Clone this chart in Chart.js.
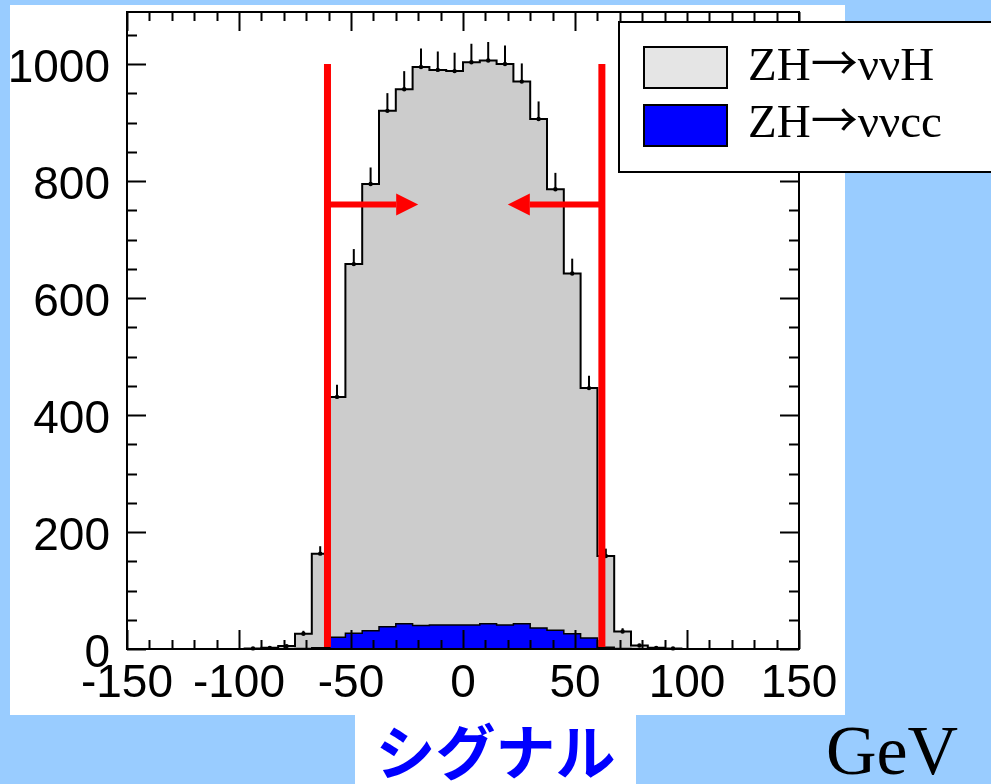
<!DOCTYPE html>
<html><head><meta charset="utf-8">
<script src="https://cdn.jsdelivr.net/npm/chart.js@4.4.0/dist/chart.umd.min.js"></script>
<style>
html,body{margin:0;padding:0;}
body{width:991px;height:784px;background:#99ccff;position:relative;overflow:hidden;}
#panel{position:absolute;left:10px;top:5px;width:835px;height:710px;background:#fff;}
#sigbox{position:absolute;left:355px;top:714px;width:281px;height:70px;background:#fff;}
#sig{position:absolute;left:355px;top:714px;width:281px;height:70px;line-height:70px;text-align:center;
  font-family:"Noto Sans CJK JP";font-weight:700;font-size:60px;color:#0000ff;}
#gev{position:absolute;left:826px;top:716px;line-height:70px;font-family:"Liberation Serif";font-size:70px;color:#000;white-space:nowrap;}
#c{position:absolute;left:0;top:0;}
.lg{position:absolute;left:748px;font-family:"Liberation Serif";font-size:47px;line-height:47px;color:#000;white-space:nowrap;}
.ar{font-family:"Noto Sans CJK JP";font-weight:400;line-height:0;}
</style></head>
<body>
<div id="panel"></div>
<div id="sigbox"></div>
<div id="sig">シグナル</div>
<div id="gev">GeV</div>
<canvas id="c" width="991" height="784"></canvas>
<div class="lg" id="lg0" style="top:41px"></div>
<div class="lg" id="lg1" style="top:98px"></div>
<script>
// ---- data ----
const binEdges = [-150,-142.5,-135,-127.5,-120,-112.5,-105,-97.5,-90,-82.5,-75,-67.5,-60,-52.5,-45,-37.5,-30,-22.5,-15,-7.5,
  0,7.5,15,22.5,30,37.5,45,52.5,60,67.5,75,82.5,90,97.5,105,112.5,120,127.5,135,142.5,150];
const totalCounts = [0,0,0,0,0,0,0,1,2,5,26,163,431,658,795,920,957,995,990,988,
  1003,1006,1000,970,906,786,642,446,159,30,6,2,1,0,0,0,0,0,0,0];
const totalErrors = [0,0,0,0,0,0,0,1,1.4,2.2,5.1,12.7,20.8,25.7,28.2,30.3,30.9,31.5,31.5,31.4,
  31.7,31.7,31.6,31.1,30.1,28,25.3,21.1,12.6,5.5,2.4,1.4,1,0,0,0,0,0,0,0];
const ccCounts = [0,0,0,0,0,0,0,0,0,0,1,2,20,27,31,38,43,40,41,41,
  41,43,41,43,36,32,26,19,3,1,0,0,0,0,0,0,0,0,0,0];
const seriesNames = ['ZH\u2192\u03bd\u03bdH','ZH\u2192\u03bd\u03bdcc'];
const xTickLabels = [-150,-100,-50,0,50,100,150];
const yTickLabels = [0,200,400,600,800,1000];
const cutValues = [-60.5, 62];
const cutTop = 1000;
const arrowLevel = 760;
const arrowTips = [-20, 20];

// legend text (real text, arrow glyph in a font with a full-width arrow)
seriesNames.forEach((n,i)=>{
  const el = document.getElementById('lg'+i);
  const parts = n.split('\u2192');
  el.appendChild(document.createTextNode(parts[0]));
  const s = document.createElement('span'); s.className='ar'; s.textContent='\u2192';
  el.appendChild(s);
  el.appendChild(document.createTextNode(parts[1]));
});

function stepPoints(counts){
  const pts = counts.map((v,i)=>({x:binEdges[i], y:v}));
  pts.push({x:binEdges[binEdges.length-1], y:0});
  return pts;
}

const decor = {
  id:'decor',
  afterDatasetsDraw(chart){
    const {ctx, chartArea:a, scales:{x,y}} = chart;
    ctx.save();
    // error bars + markers
    ctx.strokeStyle='#000'; ctx.fillStyle='#000'; ctx.lineWidth=2;
    for(let i=0;i<totalCounts.length;i++){
      const v = totalCounts[i]; if(!v) continue;
      const cx = x.getPixelForValue((binEdges[i]+binEdges[i+1])/2);
      const py = y.getPixelForValue(v), pe = y.getPixelForValue(v+totalErrors[i]);
      ctx.beginPath(); ctx.moveTo(cx,py); ctx.lineTo(cx,pe); ctx.stroke();
      ctx.beginPath(); ctx.arc(cx,py,2.2,0,Math.PI*2); ctx.fill();
    }
    // frame + inward ticks
    ctx.lineWidth=2;
    ctx.strokeRect(a.left,a.top,a.width,a.height);
    ctx.beginPath();
    for(let v=-150; v<=150; v+=10){
      const px = Math.round(x.getPixelForValue(v))+0.5;
      const len = (v%50===0)?19:9;
      ctx.moveTo(px,a.bottom); ctx.lineTo(px,a.bottom-len);
      ctx.moveTo(px,a.top); ctx.lineTo(px,a.top+len);
    }
    for(let v=0; v<=1050; v+=50){
      const py = Math.round(y.getPixelForValue(v))+0.5;
      const len = (v%200===0)?19:10;
      ctx.moveTo(a.left,py); ctx.lineTo(a.left+len,py);
      ctx.moveTo(a.right,py); ctx.lineTo(a.right-len,py);
    }
    ctx.stroke();
    // red cut lines
    ctx.strokeStyle='#ff0000'; ctx.fillStyle='#ff0000';
    ctx.lineWidth=7;
    const y0 = y.getPixelForValue(0)-2, yt = y.getPixelForValue(cutTop);
    cutValues.forEach(c=>{
      const px = x.getPixelForValue(c);
      ctx.beginPath(); ctx.moveTo(px,y0); ctx.lineTo(px,yt); ctx.stroke();
    });
    // arrows
    const ay = y.getPixelForValue(arrowLevel);
    cutValues.forEach((c,k)=>{
      const from = x.getPixelForValue(c), tip = x.getPixelForValue(arrowTips[k]);
      const dir = Math.sign(tip-from), head = 22;
      ctx.lineWidth=6;
      ctx.beginPath(); ctx.moveTo(from,ay); ctx.lineTo(tip-dir*head,ay); ctx.stroke();
      ctx.beginPath(); ctx.moveTo(tip,ay); ctx.lineTo(tip-dir*head,ay-11); ctx.lineTo(tip-dir*head,ay+11); ctx.closePath(); ctx.fill();
    });
    ctx.restore();
  },
  afterDraw(chart){
    const ctx = chart.ctx;
    ctx.save();
    ctx.fillStyle='#fff'; ctx.strokeStyle='#000'; ctx.lineWidth=2;
    ctx.fillRect(619,22,380,150); ctx.strokeRect(619,22,380,150);
    const sw = [['#e5e5e5',47],['#0000ff',105]];
    sw.forEach(([col,top])=>{
      ctx.fillStyle=col; ctx.fillRect(644,top,83,41);
      ctx.strokeStyle='#000'; ctx.lineWidth=2; ctx.strokeRect(644,top,83,41);
    });
    ctx.restore();
  }
};

new Chart(document.getElementById('c'),{
  type:'line',
  data:{datasets:[
    {label:seriesNames[1], data:stepPoints(ccCounts), stepped:'before', fill:'origin',
     backgroundColor:'#0000ff', borderColor:'#000', borderWidth:1.5, pointRadius:0},
    {label:seriesNames[0], data:stepPoints(totalCounts), stepped:'before', fill:'origin',
     backgroundColor:'#cccccc', borderColor:'#000', borderWidth:2, pointRadius:0}
  ]},
  options:{
    responsive:false, animation:false, devicePixelRatio:1,
    layout:{padding:{left:0,top:12,right:192,bottom:0}},
    plugins:{legend:{display:false}, tooltip:{enabled:false}},
    scales:{
      x:{type:'linear', min:-150, max:150, border:{display:false},
        grid:{display:false, drawTicks:false},
        afterBuildTicks(s){ s.ticks = xTickLabels.map(v=>({value:v})); },
        ticks:{autoSkip:false, maxRotation:0, padding:8, color:'#000',
          font:{family:'"Liberation Sans", Arial, sans-serif', size:46},
          callback:v=>String(v)},
        afterFit(s){ s.height = 784-649; s.paddingLeft=0; s.paddingRight=0; }
      },
      y:{min:0, max:1089, border:{display:false},
        grid:{display:false, drawTicks:false},
        afterBuildTicks(s){ s.ticks = yTickLabels.map(v=>({value:v})); },
        ticks:{autoSkip:false, padding:17, labelOffset:5, color:'#000',
          font:{family:'"Liberation Sans", Arial, sans-serif', size:46},
          callback:v=>String(v)},
        afterFit(s){ s.width = 127; s.paddingTop=0; s.paddingBottom=0; }
      }
    }
  },
  plugins:[decor]
});
</script>
</body></html>
